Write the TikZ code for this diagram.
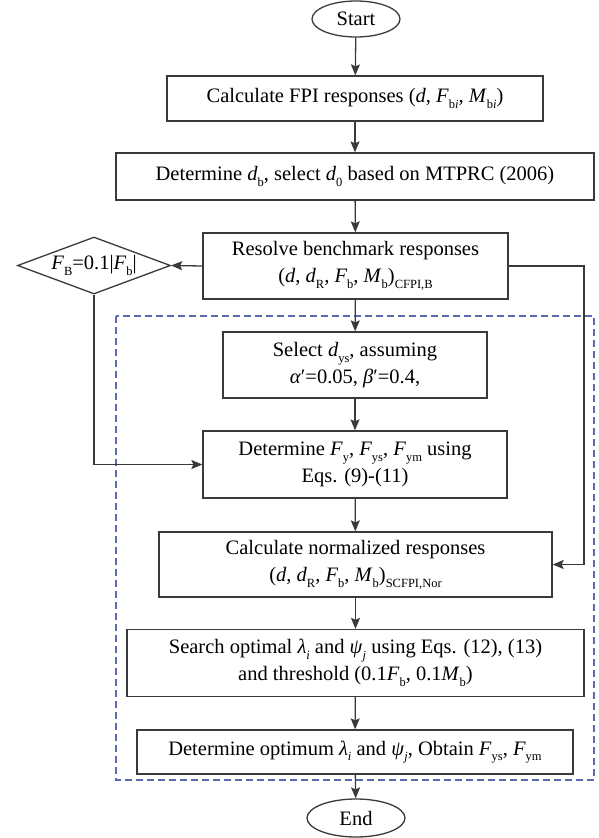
\documentclass[tikz,border=0pt]{standalone}
\usepackage{fontspec}
\setmainfont{Liberation Serif}
\usepackage{tikz}
\usetikzlibrary{shapes.geometric, positioning, arrows.meta}
\definecolor{LineColor}{HTML}{3A3A3A}
\definecolor{FrameColor}{HTML}{5B6BB0}
\newcommand{\lsub}[1]{\raisebox{-0.28em}{\fontsize{12.5}{12.5}\selectfont #1}}

\begin{document}
\begin{tikzpicture}[x=1pt,y=-1pt,
      box/.style={rectangle,draw=LineColor,line width=1.3pt,fill=white,align=center,inner sep=2pt},
      term/.style={ellipse,draw=LineColor,line width=1.3pt,fill=white,inner sep=0pt},
      cond/.style={diamond,draw=LineColor,line width=1.3pt,fill=white,inner sep=0pt,aspect=2.68},
      edge/.style={-{Stealth[length=11pt,width=9pt,inset=2pt]},line width=1.3pt,draw=LineColor},
      frame/.style={draw=FrameColor,line width=1.3pt,dash pattern=on 7pt off 4pt},
      font=\fontsize{20.5}{27}\selectfont
    ]
    \useasboundingbox (0,0) rectangle (599,838);
    % dashed region
    \draw[frame] (116,316) rectangle (594,780);
    \node[term] (start) at (356,19) [minimum width=88pt,minimum height=36pt] {Start};
    \node[box] (calc) at (355,98.5) [minimum width=376pt,minimum height=45pt]
      {Calculate FPI responses (\textit{d}, \textit{F}\lsub{b\textit{i}}, \textit{M}\lsub{b\textit{i}})};
    \node[box] (detb) at (355,176.5) [minimum width=478pt,minimum height=47pt]
      {Determine \textit{d}\lsub{b}, select \textit{d}\lsub{0} based on MTPRC (2006)};
    \node[box] (resolve) at (355.5,266) [minimum width=305pt,minimum height=66pt]
      {Resolve benchmark responses\\(\textit{d}, \textit{d}\lsub{R}, \textit{F}\lsub{b}, \textit{M}\lsub{b})\lsub{CFPI,B}};
    \node[cond] (limit) at (94,265.5) [minimum width=153pt,minimum height=57pt]
      {\textit{F}\lsub{B}=0.1|\textit{F}\lsub{b}|};
    \node[box] (select) at (355,365) [minimum width=264pt,minimum height=66pt]
      {Select \textit{d}\lsub{ys}, assuming\\\textit{α}′=0.05, \textit{β}′=0.4,};
    \node[box] (detfy) at (355,464.5) [minimum width=304pt,minimum height=67pt]
      {Determine \textit{F}\lsub{y}, \textit{F}\lsub{ys}, \textit{F}\lsub{ym} using\\Eqs. (9)-(11)};
    \node[box] (norm) at (355.5,564.5) [minimum width=393pt,minimum height=65pt]
      {Calculate normalized responses\\(\textit{d}, \textit{d}\lsub{R}, \textit{F}\lsub{b}, \textit{M}\lsub{b})\lsub{SCFPI,Nor}};
    \node[box] (search) at (355.5,663) [minimum width=457pt,minimum height=67pt]
      {Search optimal \textit{λ}\lsub{\textit{i}} and \textit{ψ}\lsub{\textit{j}} using Eqs. (12), (13)\\and threshold (0.1\textit{F}\lsub{b}, 0.1\textit{M}\lsub{b})};
    \node[box] (final) at (355,752) [minimum width=436pt,minimum height=44pt]
      {Determine optimum \textit{λ}\lsub{\textit{i}} and \textit{ψ}\lsub{\textit{j}}, Obtain \textit{F}\lsub{ys}, \textit{F}\lsub{ym}};
    \node[term] (end) at (356,818) [minimum width=98pt,minimum height=38pt] {End};
    \coordinate (rbend) at (584,266);
    \foreach \a/\b in {start/calc,calc/detb,detb/resolve,resolve/select,select/detfy,detfy/norm,norm/search,search/final,final/end}
      \draw[edge] (\a) -- (\b);
    \draw[edge] (resolve.west) -- (limit.east);
    \draw[edge] (limit.south) |- (detfy.west);
    \draw[edge] (resolve.east) -- (rbend) |- (norm.east);
  \end{tikzpicture}
\end{document}
